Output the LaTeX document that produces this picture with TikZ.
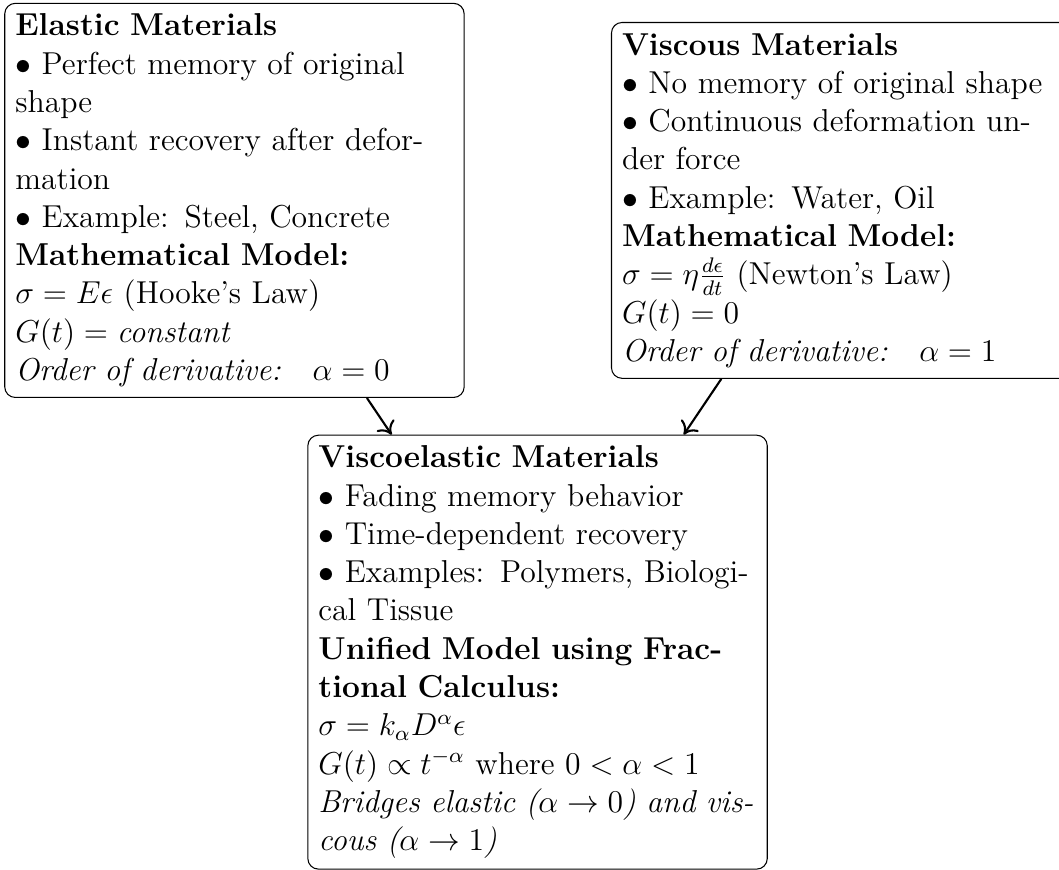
\documentclass[tikz,12pt,border=0pt]{standalone}
\usepackage{amsmath}
\usetikzlibrary{arrows.meta}
\begin{document}
\begin{tikzpicture}[
  matbox/.style={draw, rectangle, rounded corners=4pt, text width=166pt, inner sep=4pt, align=left},
  flow/.style={-{To[length=4.5pt,width=8pt]}, thick}
]
\useasboundingbox (0,0) rectangle (401.1pt,-329.5pt);
\node[matbox] (elastic) at (88.8pt,-75.9pt) {\textbf{Elastic Materials}\\
$\bullet$ Perfect memory of original shape\\
$\bullet$ Instant recovery after deformation\\
$\bullet$ Example: Steel, Concrete\\
\textbf{Mathematical Model:}\\
$\sigma = E\epsilon$ (Hooke's Law)\\
$G(t) = \textit{constant}$\\
\textit{Order of derivative:}$\quad\alpha = 0$};
\node[matbox] (viscous) at (318.6pt,-75.9pt) {\textbf{Viscous Materials}\\
$\bullet$ No memory of original shape\\
$\bullet$ Continuous deformation under force\\
$\bullet$ Example: Water, Oil\\
\textbf{Mathematical Model:}\\
$\sigma = \eta\frac{d\epsilon}{dt}$ (Newton's Law)\\
$G(t) = 0$\\
\textit{Order of derivative:}$\quad\alpha = 1$};
\node[matbox] (visco) at (203.6pt,-247pt) {\textbf{Viscoelastic Materials}\\
$\bullet$ Fading memory behavior\\
$\bullet$ Time-dependent recovery\\
$\bullet$ Examples: Polymers, Biological Tissue\\
\textbf{Unified Model using Fractional Calculus:}\\
$\sigma = k_\alpha D^\alpha \epsilon$\\
$G(t) \propto t^{-\alpha}$ where $0 < \alpha < 1$\\
\textit{Bridges elastic ($\alpha \to 0$) and vis-}\\
\textit{cous ($\alpha \to 1$)}};
\draw[flow] (elastic) -- (visco);
\draw[flow] (viscous) -- (visco);
\end{tikzpicture}
\end{document}
